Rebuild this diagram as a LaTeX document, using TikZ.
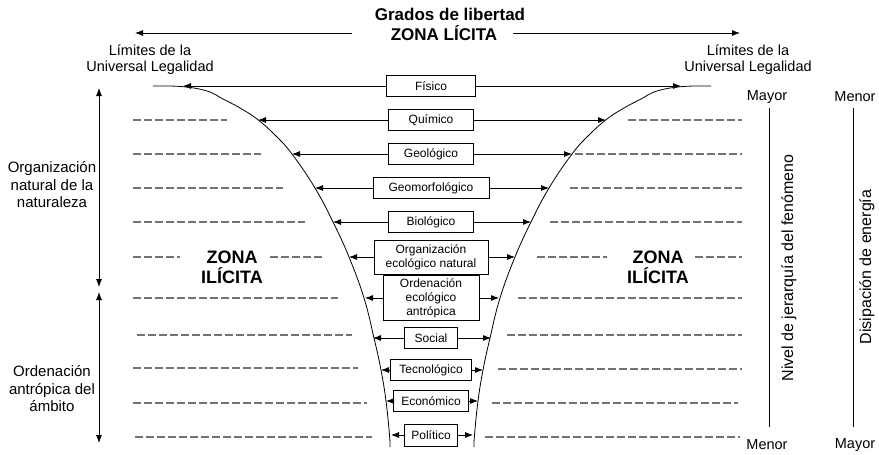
\documentclass[tikz,border=0pt]{standalone}
\usepackage{fontspec}
\setmainfont{Liberation Sans}
\usetikzlibrary{arrows.meta}

\tikzset{
  caja/.style={draw, line width=0.8pt, inner sep=1pt, align=center,
    font=\fontsize{12}{14}\selectfont},
  flecha/.style={-{Latex[length=8pt,width=6pt]}, line width=0.8pt},
  flechas/.style={{Latex[length=8pt,width=6pt]}-{Latex[length=8pt,width=6pt]}, line width=0.8pt},
  guion/.style={draw=black!55, line width=1.6pt, dash pattern=on 8pt off 3pt},
  lado/.style={align=center, inner sep=1pt, font=\fontsize{14.5}{16}\selectfont},
  zona/.style={align=center, inner sep=1pt, font=\bfseries\fontsize{18}{20}\selectfont},
}

\begin{document}
\begin{tikzpicture}[x=1pt, y=-1pt]
  \useasboundingbox (0,0) rectangle (879,455);

  % titulo
  \node[zona, font=\bfseries\fontsize{17}{19}\selectfont] (grados) at (450,14) {Grados de libertad};
  \node[zona, font=\bfseries\fontsize{17}{19}\selectfont] (licita) at (444,33) {ZONA LÍCITA};
  \coordinate (limI) at (135,33);
  \coordinate (limD) at (740,33);
  \draw[flecha] ([xshift=-38pt]licita.west) -- (limI);
  \draw[flecha] ([xshift=15pt]licita.east) -- (limD);

  \node[lado] (legalI) at (150,60) {Límites de la\\Universal Legalidad};
  \node[lado] (legalD) at (748,60) {Límites de la\\Universal Legalidad};

  % embudo
  \foreach \sx/\dx in {1/0, -1/864} {
    \begin{scope}[xshift=\dx pt, xscale=\sx]
      \draw[line width=0.8pt] plot[smooth, tension=0.7] coordinates {
        (153,86) (182,86.6) (207,91) (223,99) (240,108) (257,119) (275,135)
        (292,154) (315,188) (333,222) (349,257) (364,298) (374,338)
        (381,370) (386,401) (389.5,435) (390,447)};
    \end{scope}
  }

  % niveles
  \foreach \n/\y/\l/\w/\h/\t in {
      fis/86/183/89/21/Físico,
      qui/120/258/85/21/Químico,
      geo/154/292/85/21/Geológico,
      gmf/188/315/116/21/Geomorfológico,
      bio/222/333/85/21/Biológico,
      orn/257/349/114/34/{Organización\\ecológico natural},
      ora/298/365/96/45/{Ordenación\\ecológico\\antrópica},
      soc/338/373/53/21/Social,
      tec/370/381/81/21/Tecnológico,
      eco/401/386/75/21/Económico,
      pol/435/391/53/22/Político} {
    \node[caja, minimum width=\w pt, minimum height=\h pt] (\n) at (431,\y) {\t};
    \coordinate (\n I) at (\l,\y);
    \coordinate (\n D) at ({864-\l},\y);
    \draw[flecha] (\n) -- (\n I);
    \draw[flecha] (\n) -- (\n D);
  }

  % lineas de trazos
  \foreach \y/\a/\b in {120/133/227, 154/133/261, 188/133/283, 222/133/305,
      257/133/180, 257/270/322, 298/133/338, 335/137/352, 368/133/358,
      403/133/367, 437/135/372}
    \draw[guion] (\a,\y) -- (\b,\y);
  \foreach \y/\a/\b in {120/628/742, 154/575/742, 188/570/742, 222/550/742,
      257/537/607, 257/695/742, 298/518/742, 335/507/742, 369/498/742,
      403/492/738, 437/485/740}
    \draw[guion] (\a,\y) -- (\b,\y);

  \node[zona] (ilicitaI) at (232,267) {ZONA\\ILÍCITA};
  \node[zona] (ilicitaD) at (658,267) {ZONA\\ILÍCITA};

  % escala izquierda
  \coordinate (natA) at (99,88);
  \coordinate (natB) at (99,287);
  \coordinate (antA) at (99,292);
  \coordinate (antB) at (99,443);
  \draw[flechas] (natA) -- (natB);
  \draw[flechas] (antA) -- (antB);
  \node[lado, font=\fontsize{15}{17.5}\selectfont] (natural) at (52,185) {Organización\\natural de la\\naturaleza};
  \node[lado, font=\fontsize{15}{17.5}\selectfont] (antropica) at (52,389) {Ordenación\\antrópica del\\ámbito};

  % escalas derecha
  \node[lado] (mayorA) at (767,97) {Mayor};
  \node[lado] (menorA) at (855,97) {Menor};
  \node[lado] (menorB) at (767,445) {Menor};
  \node[lado] (mayorB) at (855,445) {Mayor};
  \coordinate (nivA) at (769,108);
  \coordinate (nivB) at (769,427);
  \coordinate (disA) at (853,108);
  \coordinate (disB) at (853,427);
  \draw[line width=0.8pt] (nivA) -- (nivB);
  \draw[line width=0.8pt] (disA) -- (disB);
  \node[lado, rotate=90, font=\fontsize{16}{18}\selectfont] (nivel) at (789,268) {Nivel de jerarquía del fenómeno};
  \node[lado, rotate=90, font=\fontsize{16}{18}\selectfont] (disipa) at (867,267) {Disipación de energía};
\end{tikzpicture}
\end{document}
